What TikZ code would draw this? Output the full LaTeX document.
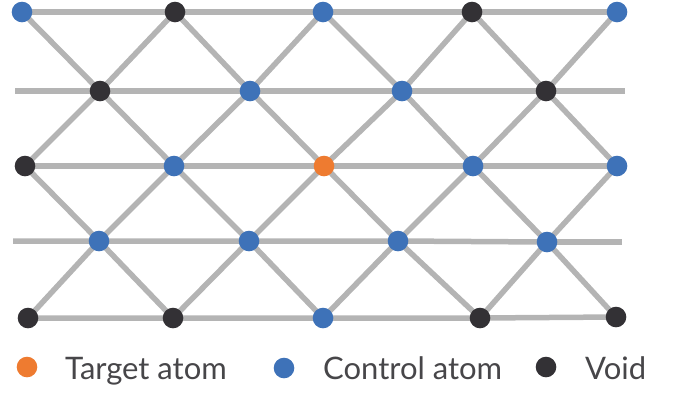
\documentclass[tikz,border=0pt]{standalone}
\usepackage{fontspec}
\setmainfont{Lato}
\usetikzlibrary{backgrounds}
\definecolor{bondgray}{HTML}{B4B4B4}
\definecolor{ctrlblue}{HTML}{3E72B8}
\definecolor{tgtorange}{HTML}{EE7B30}
\definecolor{voiddark}{HTML}{333135}
\begin{document}
\begin{tikzpicture}[x=1pt, y=-1pt,
        atom/.style={circle, inner sep=0pt, minimum size=20.6pt},
        ctrl/.style={atom, fill=ctrlblue},
        tgt/.style={atom, fill=tgtorange},
        void/.style={atom, fill=voiddark},
        bond/.style={draw=bondgray, line width=5.5pt},
        legend/.style={anchor=base west, inner sep=0pt,
                       font=\fontsize{31}{37}\selectfont, text=voiddark!90}]
      \useasboundingbox (0,0) rectangle (674,392);
      % Rangee 1
      \node[ctrl] (a0) at (22,12)  {};
      \node[void] (a1) at (175,12) {};
      \node[ctrl] (a2) at (323,12) {};
      \node[void] (a3) at (472,12) {};
      \node[ctrl] (a4) at (617,12) {};
      % Rangee 2
      \coordinate (b0) at (15,91);
      \node[void] (b1) at (100,91) {};
      \node[ctrl] (b2) at (250,91) {};
      \node[ctrl] (b3) at (402,91) {};
      \node[void] (b4) at (546,91) {};
      \coordinate (b5) at (625,91);
      % Rangee 3
      \node[void] (c0) at (25,166)  {};
      \node[ctrl] (c1) at (174,166) {};
      \node[tgt]  (c2) at (324,166) {};
      \node[ctrl] (c3) at (473,166) {};
      \node[ctrl] (c4) at (617,166) {};
      % Rangee 4
      \coordinate (d0) at (13,241);
      \node[ctrl] (d1) at (99,241)  {};
      \node[ctrl] (d2) at (249,241) {};
      \node[ctrl] (d3) at (398,241) {};
      \node[ctrl] (d4) at (547,242) {};
      \coordinate (d5) at (622,242);
      % Rangee 5
      \node[void] (e0) at (28,318)  {};
      \node[void] (e1) at (173,318) {};
      \node[ctrl] (e2) at (323,318) {};
      \node[void] (e3) at (480,318) {};
      \node[void] (e4) at (616,317) {};
      % Liaisons
      \begin{pgfonlayer}{background}
        \foreach \r in {a,b,c,d,e}
          \draw[bond] (\r0.center) -- (\r1.center) -- (\r2.center)
                      -- (\r3.center) -- (\r4.center);
        \draw[bond] (b4.center) -- (b5);
        \draw[bond] (d4.center) -- (d5);
        \foreach \r/\s in {a/b,c/b,c/d,e/d}
          \foreach \i/\j in {0/1,1/1,1/2,2/2,2/3,3/3,3/4,4/4}
            \draw[bond] (\r\i.center) -- (\s\j.center);
      \end{pgfonlayer}
      % Legende
      \node[tgt]  (lt) at (27,367)  {};
      \node[legend] (ltx) at (65,379)  {Target atom};
      \node[ctrl] (lc) at (284,368) {};
      \node[legend] (lcx) at (323,379) {Control atom};
      \node[void] (lv) at (546,367) {};
      \node[legend] (lvx) at (585,379) {Void};
    \end{tikzpicture}
\end{document}
